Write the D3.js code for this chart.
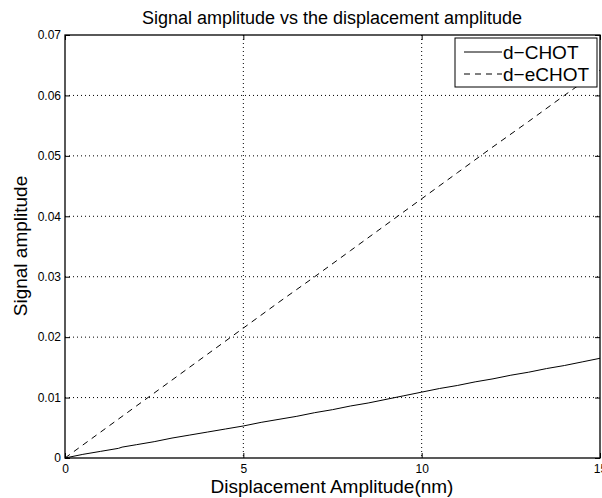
<!DOCTYPE html>
<html>
<head>
<meta charset="utf-8">
<script src="https://cdn.jsdelivr.net/npm/d3@7"></script>
<style>
  body { margin: 0; background: #fff; }
  svg { display: block; font-family: "Liberation Sans", Arial, sans-serif; }
</style>
</head>
<body>
<svg id="chart" width="602" height="498"></svg>
<script>
// values
let xTicks = [0, 5, 10, 15];
let yTicks = [0, 0.01, 0.02, 0.03, 0.04, 0.05, 0.06, 0.07];

let chotX = [0, 0.5, 1, 1.5, 1.6, 2, 2.5, 3, 3.5, 4, 4.5, 5, 5.5, 6, 6.5, 7, 7.5, 8, 8.5, 9, 9.5, 10, 10.5, 11, 11.5, 12, 12.5, 13, 13.5, 14, 14.5, 15];
let chotY = [0, 0.0006, 0.0011, 0.0016, 0.0018, 0.0022, 0.0027, 0.0033, 0.0038, 0.0043, 0.0048, 0.0053, 0.0059, 0.0064, 0.0069, 0.0075, 0.0080, 0.0086, 0.0091, 0.0097, 0.0103, 0.0109, 0.0115, 0.0120, 0.0126, 0.0131, 0.0137, 0.0142, 0.0148, 0.0153, 0.0159, 0.0165];

let echotX = [0, 1, 2, 3, 4, 5, 6, 7, 8, 9, 10, 11, 12, 13, 14, 15];
let echotY = [0, 0.0043, 0.0086, 0.0129, 0.0172, 0.0215, 0.0258, 0.0300, 0.0343, 0.0386, 0.0429, 0.0472, 0.0515, 0.0557, 0.0600, 0.0642];

let seriesNames = ['d\u2212CHOT', 'd\u2212eCHOT'];

let svg = d3.select('#chart');
let plot = {left: 65, right: 600, top: 35, bottom: 458};

let x = d3.scaleLinear().domain([0, 15]).range([plot.left, plot.right]);
let y = d3.scaleLinear().domain([0, 0.07]).range([plot.bottom, plot.top]);

let grid = svg.append('g');
let layer = svg.append('g');

// dotted grid
grid.selectAll('.vgrid')
  .data(xTicks.slice(1, -1))
  .join('line')
  .attr('class', 'vgrid')
  .attr('x1', d => x(d)).attr('x2', d => x(d))
  .attr('y1', plot.top).attr('y2', plot.bottom)
  .style('stroke', '#000')
  .style('stroke-width', 1)
  .style('stroke-dasharray', '1,3');

grid.selectAll('.hgrid')
  .data(yTicks.slice(1, -1))
  .join('line')
  .attr('class', 'hgrid')
  .attr('x1', plot.left).attr('x2', plot.right)
  .attr('y1', d => y(d)).attr('y2', d => y(d))
  .style('stroke', '#000')
  .style('stroke-width', 1)
  .style('stroke-dasharray', '1,3');

// axes with inward ticks
let fmtY = d => d === 0 ? '0' : d3.format('.2f')(d);
let bottomAxis = d3.axisBottom(x).tickValues(xTicks).tickSizeInner(-5).tickSizeOuter(0).tickPadding(6).tickFormat(d3.format('d'));
let topAxis = d3.axisTop(x).tickValues(xTicks).tickSizeInner(-5).tickSizeOuter(0).tickFormat('');
let leftAxis = d3.axisLeft(y).tickValues(yTicks).tickSizeInner(-5).tickSizeOuter(0).tickPadding(4).tickFormat(fmtY);
let rightAxis = d3.axisRight(y).tickValues(yTicks).tickSizeInner(-5).tickSizeOuter(0).tickFormat('');

function styleAxis(g) {
  g.selectAll('.domain').remove();
  g.selectAll('line').style('stroke', '#000');
  g.selectAll('text').style('font-size', '12px').style('fill', '#000').style('font-family', '"Liberation Sans", Arial, sans-serif');
}

svg.append('g').attr('transform', `translate(0,${plot.bottom})`).call(bottomAxis).call(styleAxis);
svg.append('g').attr('transform', `translate(0,${plot.top})`).call(topAxis).call(styleAxis);
svg.append('g').attr('transform', `translate(${plot.left},0)`).call(leftAxis).call(styleAxis);
svg.append('g').attr('transform', `translate(${plot.right},0)`).call(rightAxis).call(styleAxis);

// lines
let line = d3.line().x(d => x(d[0])).y(d => y(d[1]));
layer.append('path')
  .datum(d3.zip(chotX, chotY))
  .attr('d', line)
  .style('fill', 'none').style('stroke', '#000').style('stroke-width', 1);
layer.append('path')
  .datum(d3.zip(echotX, echotY))
  .attr('d', line)
  .style('fill', 'none').style('stroke', '#000').style('stroke-width', 1)
  .style('stroke-dasharray', '6,5');

// frame
svg.append('rect')
  .attr('x', plot.left).attr('y', plot.top)
  .attr('width', plot.right - plot.left).attr('height', plot.bottom - plot.top)
  .style('fill', 'none').style('stroke', '#000').style('stroke-width', 1.3);

// legend
let legend = svg.append('g').attr('transform', 'translate(455,38)');
legend.append('rect')
  .attr('width', 142).attr('height', 49)
  .style('fill', '#fff').style('stroke', '#000').style('stroke-width', 1);
let items = legend.selectAll('.item')
  .data(seriesNames)
  .join('g')
  .attr('class', 'item')
  .attr('transform', (d, i) => `translate(0,${14 + i * 22})`);
items.append('line')
  .attr('x1', 9).attr('x2', 47)
  .style('stroke', '#000').style('stroke-width', 1)
  .style('stroke-dasharray', (d, i) => i ? '6,5' : null);
items.append('text')
  .attr('x', 48).attr('y', 7)
  .style('font-size', '19px')
  .text(d => d);

// title and labels
svg.append('text')
  .attr('x', 332).attr('y', 24)
  .attr('text-anchor', 'middle')
  .style('font-size', '18px')
  .text('Signal amplitude vs the displacement amplitude');
svg.append('text')
  .attr('x', 332).attr('y', 493)
  .attr('text-anchor', 'middle')
  .style('font-size', '19px')
  .text('Displacement Amplitude(nm)');
svg.append('text')
  .attr('transform', 'translate(27,246) rotate(-90)')
  .attr('text-anchor', 'middle')
  .style('font-size', '19px')
  .text('Signal amplitude');
</script>
</body>
</html>
